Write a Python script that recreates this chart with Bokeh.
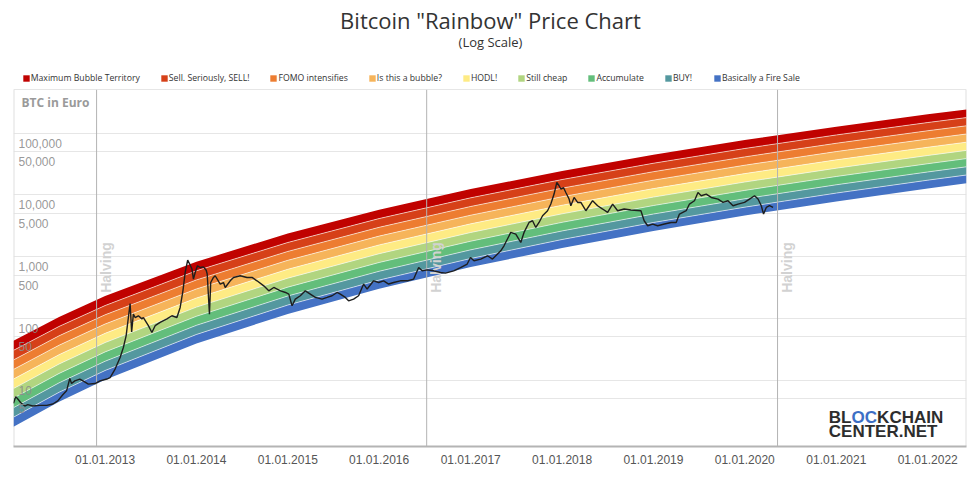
from datetime import datetime
import numpy as np
import pandas as pd
from bokeh.plotting import figure
from bokeh.models import (Range1d, FixedTicker, DatetimeTickFormatter, Legend,
                          LegendItem)
from bokeh.core.properties import value
from bokeh.embed import file_html
from bokeh.resources import INLINE

# ---------------- data ----------------
title_text = 'Bitcoin "Rainbow" Price Chart'
subtitle_text = "(Log Scale)"
band_names = ["Maximum Bubble Territory", "Sell. Seriously, SELL!", "FOMO intensifies",
              "Is this a bubble?", "HODL!", "Still cheap", "Accumulate", "BUY!",
              "Basically a Fire Sale"]
band_colors = ["#c00200", "#d64018", "#ed7d31", "#f6b45a", "#feeb84",
               "#b1d580", "#63be7b", "#54989f", "#4472c4"]

band_dates = ["2012-01-01", "2012-07-01", "2013-01-01", "2014-01-01", "2015-01-01",
              "2016-01-01", "2017-01-01", "2018-01-01", "2019-01-01", "2020-01-01",
              "2021-01-01", "2022-01-01", "2022-06-05"]
# band boundaries (EUR), from top of the red band (edge0) to bottom of the blue band (edge9)
edge0 = [43.3, 105, 229, 826, 2357, 5715, 12360, 24270, 44460, 76910, 126900, 200900, 241500]
edge1 = [30.3, 73.9, 161, 589, 1690, 4121, 8933, 17660, 32430, 56230, 93110, 147900, 177800]
edge2 = [21.2, 52.1, 114, 419, 1211, 2972, 6471, 12820, 23660, 41110, 68300, 108900, 130900]
edge3 = [14.9, 36.7, 80.9, 299, 869, 2143, 4677, 9311, 17260, 30130, 50120, 80000, 96500]
edge4 = [10.4, 25.8, 57.1, 213, 622, 1542, 3388, 6776, 12590, 22030, 36810, 58880, 71100]
edge5 = [7.30, 18.2, 40.5, 152, 447, 1112, 2455, 4920, 9183, 16110, 26980, 43290, 52370]
edge6 = [5.12, 12.8, 28.6, 108, 320, 802, 1774, 3581, 6699, 11790, 19800, 31850, 38550]
edge7 = [3.58, 9.02, 20.2, 77.1, 230, 578, 1285, 2600, 4883, 8627, 14530, 23430, 28390]
edge8 = [2.51, 6.35, 14.3, 54.8, 164, 416, 931, 1888, 3561, 6310, 10660, 17240, 20910]
edge9 = [1.76, 4.48, 10.1, 39.1, 118, 300, 675, 1374, 2596, 4616, 7823, 12680, 15400]

price_dates = [
    "2012-01-01", "2012-01-10", "2012-01-19", "2012-01-30", "2012-02-15", "2012-02-27",
    "2012-03-18", "2012-04-15", "2012-05-13", "2012-06-06", "2012-06-26", "2012-07-16",
    "2012-07-31", "2012-08-13", "2012-08-20", "2012-09-02", "2012-09-22", "2012-10-08",
    "2012-10-26", "2012-11-22", "2012-12-12", "2013-01-08", "2013-01-21", "2013-02-10",
    "2013-03-02", "2013-03-15", "2013-03-26", "2013-04-04", "2013-04-11", "2013-04-17",
    "2013-04-24", "2013-05-01", "2013-05-14", "2013-05-28", "2013-06-03", "2013-06-23",
    "2013-07-07", "2013-07-20", "2013-08-09", "2013-09-05", "2013-09-25", "2013-10-15",
    "2013-10-28", "2013-11-08", "2013-11-17", "2013-11-27", "2013-12-05", "2013-12-14",
    "2013-12-20", "2013-12-27", "2014-01-05", "2014-01-16", "2014-01-29", "2014-02-09",
    "2014-02-13", "2014-02-22", "2014-02-27", "2014-03-10", "2014-03-17", "2014-04-06",
    "2014-04-19", "2014-04-26", "2014-05-16", "2014-05-29", "2014-06-25", "2014-07-22",
    "2014-08-11", "2014-08-31", "2014-09-27", "2014-10-17", "2014-11-06", "2014-12-03",
    "2014-12-23", "2015-01-05", "2015-01-18", "2015-01-31", "2015-02-20", "2015-03-12",
    "2015-04-01", "2015-04-21", "2015-05-18", "2015-06-07", "2015-06-27", "2015-07-17",
    "2015-07-30", "2015-08-19", "2015-09-01", "2015-09-21", "2015-10-11", "2015-10-31",
    "2015-11-14", "2015-12-10", "2015-12-30", "2016-01-19", "2016-02-08", "2016-02-28",
    "2016-03-26", "2016-04-22", "2016-05-18", "2016-06-07", "2016-06-21", "2016-07-11",
    "2016-08-06", "2016-09-02", "2016-09-22", "2016-10-25", "2016-11-21", "2016-12-18",
    "2016-12-31", "2017-01-14", "2017-02-10", "2017-03-09", "2017-03-29", "2017-05-01",
    "2017-05-14", "2017-06-10", "2017-06-30", "2017-07-20", "2017-08-02", "2017-08-22",
    "2017-09-05", "2017-09-18", "2017-10-01", "2017-10-15", "2017-11-04", "2017-11-17",
    "2017-11-30", "2017-12-11", "2017-12-20", "2017-12-27", "2018-01-07", "2018-01-16",
    "2018-01-29", "2018-02-05", "2018-02-18", "2018-03-04", "2018-03-17", "2018-04-06",
    "2018-05-03", "2018-05-23", "2018-06-12", "2018-07-02", "2018-07-22", "2018-08-11",
    "2018-09-06", "2018-10-03", "2018-11-12", "2018-11-25", "2018-12-09", "2018-12-29",
    "2019-01-18", "2019-02-14", "2019-03-13", "2019-04-02", "2019-04-15", "2019-05-12",
    "2019-05-25", "2019-06-14", "2019-06-28", "2019-07-11", "2019-07-31", "2019-08-20",
    "2019-09-16", "2019-10-06", "2019-10-26", "2019-11-15", "2019-12-05", "2019-12-31",
    "2020-01-20", "2020-02-09", "2020-02-23", "2020-03-07", "2020-03-16", "2020-03-27",
    "2020-04-09", "2020-04-23"]
price_eur = [
    4.2, 5.4, 4.9, 4.3, 3.8, 4.0,
    3.8, 3.9, 3.9, 4.1, 4.6, 5.8,
    6.7, 10.6, 8.8, 9.7, 10.4, 9.5,
    8.6, 8.8, 9.7, 10.4, 11.0, 15.1,
    23.2, 33.7, 52, 103, 174, 60,
    117, 103, 110, 98, 103, 76,
    59, 76, 86, 98, 110, 103,
    150, 279, 553, 877, 757, 628,
    432, 553, 710, 665, 680, 600,
    521, 117, 380, 459, 489, 359,
    380, 316, 405, 459, 489, 459,
    459, 405, 336, 279, 316, 279,
    262, 247, 160, 205, 232, 279,
    247, 218, 205, 218, 232, 262,
    247, 218, 192, 205, 232, 359,
    298, 405, 380, 405, 359, 380,
    405, 405, 432, 665, 588, 610,
    588, 553, 540, 588, 665, 757,
    966, 855, 910, 1030, 910, 1241,
    1496, 2460, 2312, 1694, 2460, 3565,
    3800, 2958, 3565, 4580, 5520, 7080,
    10280, 15850, 14020, 12390, 13000, 10900,
    8530, 6650, 9070, 7520, 7520, 5520,
    8020, 6650, 5880, 5180, 7080, 5520,
    5880, 5660, 5520, 3800, 3155, 3360,
    3155, 3360, 3565, 3565, 4875, 5520,
    7080, 8020, 10900, 9660, 10280, 9060,
    8530, 7520, 8020, 6650, 7080, 7520,
    8530, 9660, 8530, 6650, 4875, 6250,
    6650, 6250]

halving_dates = ["2012-11-28", "2016-07-09", "2020-05-11"]
tick_years = [2013, 2014, 2015, 2016, 2017, 2018, 2019, 2020, 2021, 2022]
ytick_values = [100000, 50000, 10000, 5000, 1000, 500, 100, 50, 10, 5]
ytick_labels = ["100,000", "50,000", "10,000", "5,000", "1,000", "500", "100", "50", "10", "5"]
ygrid_values = [5, 10, 50, 100, 500, 1000, 5000, 10000, 50000, 100000, 500000]

# ---------------- layout constants ----------------
W, H = 980, 487
FRAME_LEFT, FRAME_RIGHT = 13, 966       # page pixels
GRID_TOP, FRAME_BOTTOM = 89.3, 445.7    # y of the 500,000 grid line / x axis
x_start = datetime(2012, 1, 1)
x_end = datetime(2022, 6, 5)
y_min, y_grid_top = 0.841, 500000
px_per_decade = (FRAME_BOTTOM - GRID_TOP) / (np.log10(y_grid_top) - np.log10(y_min))
y_top = y_grid_top * 10 ** (GRID_TOP / px_per_decade)   # frame reaches the page top

p = figure(width=W, height=H, x_axis_type="datetime", y_axis_type="log",
           x_range=Range1d(x_start, x_end), y_range=Range1d(y_min, y_top),
           output_backend="svg", toolbar_location=None,
           min_border_left=FRAME_LEFT, min_border_right=W - FRAME_RIGHT,
           min_border_top=0, min_border_bottom=int(round(H - FRAME_BOTTOM)),
           background_fill_color="white", border_fill_color="white",
           outline_line_color=None)
p.title.text = ""
p.title.standoff = 0

p.yaxis.visible = False
p.xgrid.visible = False
p.ygrid.ticker = FixedTicker(ticks=ygrid_values)
p.ygrid.grid_line_color = "#e6e6e6"
p.ygrid.grid_line_width = 1

p.xaxis.ticker = FixedTicker(ticks=[datetime(y, 1, 1).timestamp() * 1000 for y in tick_years])
fmt = "%d.%m.%Y"
p.xaxis.formatter = DatetimeTickFormatter(years=fmt, months=fmt, days=fmt, hours=fmt,
                                          minutes=fmt, seconds=fmt, milliseconds=fmt,
                                          microseconds=fmt)
p.xaxis.axis_line_color = "#b4b4b4"
p.xaxis.axis_line_width = 2
p.xaxis.major_tick_line_color = None
p.xaxis.minor_tick_line_color = None
p.xaxis.major_label_standoff = 2
p.xaxis.major_label_text_font = "Liberation Sans"
p.xaxis.major_label_text_font_size = "12px"
p.xaxis.major_label_text_color = "#555555"

# plot-area side borders (below the 500,000 line)
p.segment(x0=[x_start, x_end], y0=[y_min, y_min], x1=[x_start, x_end],
          y1=[y_grid_top, y_grid_top], line_color="#e0e0e0", line_width=2)

bd = pd.to_datetime(band_dates)
edges = [edge0, edge1, edge2, edge3, edge4, edge5, edge6, edge7, edge8, edge9]

items = []
for i, (name, color) in enumerate(zip(band_names, band_colors)):
    r = p.varea(x=bd, y1=edges[i + 1], y2=edges[i], fill_color=color)
    items.append(LegendItem(label=name, renderers=[r]))
for e in edges[1:-1]:
    p.line(bd, e, line_color="white", line_width=1, line_alpha=0.6)

# halving lines (from the x axis up to the 500,000 line)
hd = pd.to_datetime(halving_dates)
n_h = len(halving_dates)
p.segment(x0=hd, y0=[y_min] * n_h, x1=hd, y1=[y_grid_top] * n_h,
          line_color="#b3b3b3", line_width=1)

# halving labels sit at a fixed screen height (page y ~ 267)
p.text(x=hd, y=[y_top] * n_h, text=["Halving"] * n_h, angle=np.pi / 2,
       text_align="center", text_baseline="top", x_offset=1, y_offset=267,
       text_font=value("Liberation Sans"), text_font_style="bold",
       text_font_size="14px", text_color="#d2d2d2")

p.line(pd.to_datetime(price_dates), price_eur, line_color="#1e1e1e", line_width=1.4)

p.text(x=[x_start] * len(ytick_values), y=ytick_values, text=ytick_labels,
       x_offset=5, y_offset=10, text_align="left", text_baseline="middle",
       text_font=value("Liberation Sans"), text_font_size="12px",
       text_color="#8c8c8c", text_alpha=0.9)

p.text(x=[x_start], y=[y_grid_top], text=["BTC in Euro"], x_offset=8, y_offset=13,
       text_align="left", text_baseline="middle", text_font=value("Open Sans"),
       text_font_style="bold", text_font_size="12px", text_color="#9a9a9a")

# titles
p.text(x=[x_start], y=[y_top], text=[title_text], x_offset=490 - FRAME_LEFT, y_offset=19,
       text_align="center", text_baseline="middle", text_font=value("Open Sans"),
       text_font_size="22px", text_color="#333333")
p.text(x=[x_start], y=[y_top], text=[subtitle_text], x_offset=490 - FRAME_LEFT, y_offset=41,
       text_align="center", text_baseline="middle", text_font=value("Open Sans"),
       text_font_size="13px", text_color="#333333")

# logo
logo_font = value("Liberation Sans")
p.text(x=[x_end] * 3, y=[y_min] * 3, text=["BL", "OC", "KCHAIN"],
       x_offset=[-137.7, -114.9, -89.4], y_offset=-29, text_align="left",
       text_baseline="middle", text_font=logo_font, text_font_style="bold",
       text_font_size="17px", text_color=["#2d2d2d", "#3c6fc5", "#2d2d2d"])
p.text(x=[x_end], y=[y_min], text=["CENTER.NET"], x_offset=-137.7, y_offset=-15,
       text_align="left", text_baseline="middle", text_font=logo_font,
       text_font_style="bold", text_font_size="17px", text_color="#2d2d2d")

legend = Legend(items=items, orientation="horizontal",
                location=(21.7 - FRAME_LEFT, FRAME_BOTTOM - 78 - 6),
                glyph_width=8, glyph_height=8, label_standoff=1, spacing=20,
                padding=0, margin=0, label_height=8,
                label_text_font="Open Sans", label_text_font_size="8.7px",
                label_text_color="#333333", border_line_alpha=0,
                background_fill_alpha=0)
p.add_layout(legend)

open("out.html", "w").write(file_html(p, INLINE))
